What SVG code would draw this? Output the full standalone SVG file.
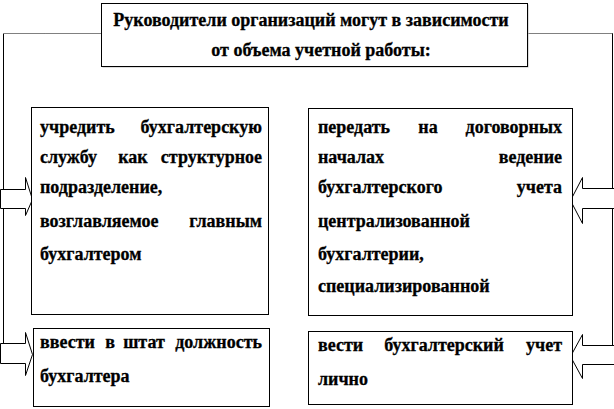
<svg xmlns="http://www.w3.org/2000/svg" width="614" height="409" viewBox="0 0 614 409">
<style>
  .box{fill:#fff;stroke:#000;stroke-width:1}
  .dot{fill:none;stroke:#000;stroke-width:1;stroke-dasharray:1,1}
  .ln{fill:none;stroke:#000;stroke-width:1}
  .arr{fill:#fff;stroke:#000;stroke-width:1}
  text{font-family:"Liberation Serif","Times New Roman",serif;font-weight:bold;font-size:18px;fill:#000;stroke:#000;stroke-width:0.3}
  .e{text-anchor:end}
  .m{text-anchor:middle}
</style>
<rect width="614" height="409" fill="#fff"/>
<g id="connectors">
  <path class="dot" d="M101.5,33.5 H3.5"/>
  <path class="ln" d="M3.5,33.5 V343.5"/>
  <path class="dot" d="M527.5,33.5 H612.5"/>
  <path class="ln" d="M612.5,33.5 V345.5"/>
  <polygon class="arr" points="0.5,189.5 25.5,189.5 25.5,177.5 32.5,199.5 25.5,215.5 25.5,208.5 0.5,208.5"/>
  <polygon class="arr" points="0.5,343.5 25.5,343.5 25.5,332.5 32.5,354.5 25.5,375.5 25.5,363.5 0.5,363.5"/>
  <polygon class="arr" points="614.5,188.5 582.5,188.5 582.5,177.5 570.5,200.5 582.5,223.5 582.5,208.5 614.5,208.5"/>
  <polygon class="arr" points="614.5,345.5 582.5,345.5 582.5,334.5 570.5,356.5 582.5,378.5 582.5,364.5 614.5,364.5"/>
</g>
<g id="top">
  <rect x="102.5" y="4.5" width="426" height="63" fill="#bbb"/>
  <rect class="box" x="101.5" y="3.5" width="426" height="63"/>
  <text class="m" x="311" y="26">Руководители организаций могут в зависимости</text>
  <text class="m" x="321" y="56">от объема учетной работы:</text>
</g>
<g id="left1">
  <rect class="box" x="31.5" y="107.5" width="237" height="207"/>
  <text x="40" y="133">учредить</text>
  <text class="e" x="262" y="133">бухгалтерскую</text>
  <text x="40" y="163">службу</text>
  <text class="m" x="133" y="163">как</text>
  <text class="e" x="262" y="163">структурное</text>
  <text x="40" y="193">подразделение,</text>
  <text x="40" y="227">возглавляемое</text>
  <text class="e" x="262" y="227">главным</text>
  <text x="40" y="260">бухгалтером</text>
</g>
<g id="right1">
  <rect class="box" x="308.5" y="108.5" width="264" height="207"/>
  <text x="318" y="133">передать</text>
  <text class="m" x="428" y="133">на</text>
  <text class="e" x="562" y="133">договорных</text>
  <text x="318" y="163">началах</text>
  <text class="e" x="562" y="163">ведение</text>
  <text x="318" y="193">бухгалтерского</text>
  <text class="e" x="562" y="193">учета</text>
  <text x="318" y="227">централизованной</text>
  <text x="318" y="260">бухгалтерии,</text>
  <text x="318" y="292">специализированной</text>
</g>
<g id="left2">
  <rect class="box" x="33.5" y="328.5" width="236" height="78"/>
  <text x="40" y="348">ввести</text>
  <text class="m" x="110" y="348">в</text>
  <text class="m" x="144" y="348">штат</text>
  <text class="e" x="262" y="348">должность</text>
  <text x="40" y="382">бухгалтера</text>
</g>
<g id="right2">
  <rect class="box" x="308.5" y="331.5" width="264" height="73"/>
  <text x="318" y="351">вести</text>
  <text class="m" x="444" y="351">бухгалтерский</text>
  <text class="e" x="562" y="351">учет</text>
  <text x="318" y="385">лично</text>
</g>
</svg>
